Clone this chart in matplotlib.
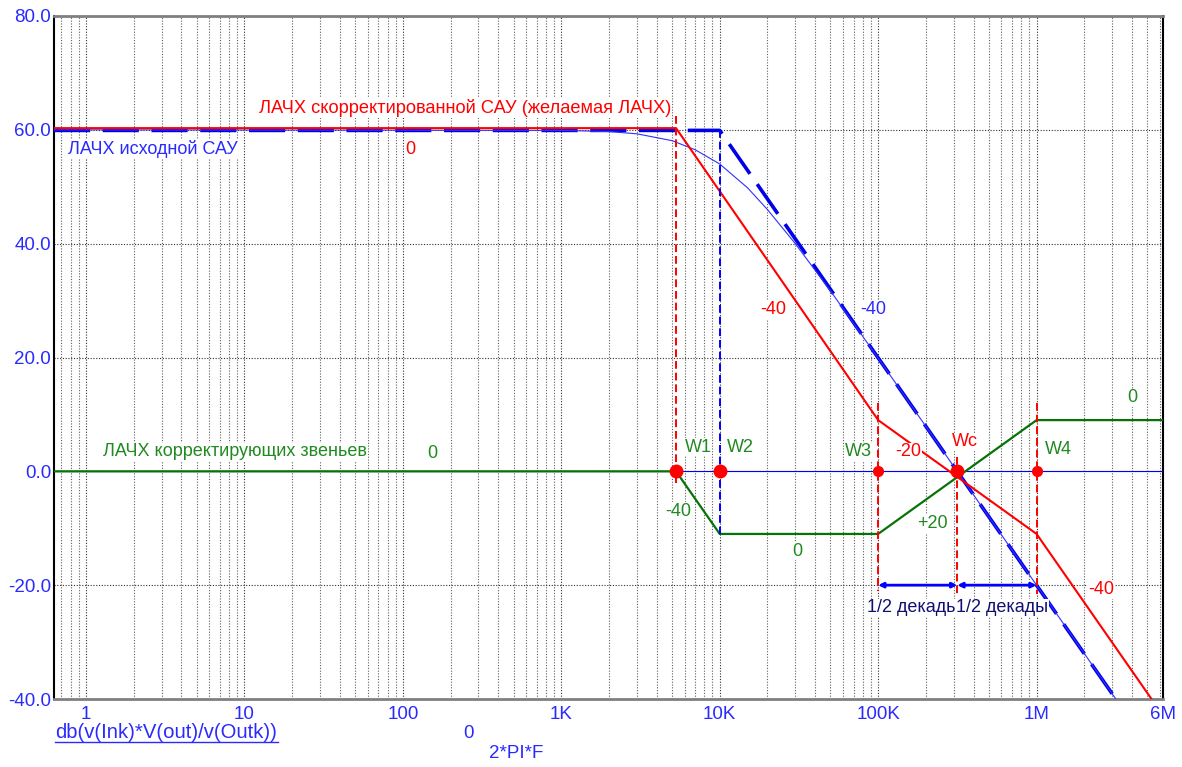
import math
import matplotlib
matplotlib.use("Agg")
import matplotlib.pyplot as plt
from matplotlib.lines import Line2D
from matplotlib.ticker import NullFormatter, LogLocator

plt.rcParams['font.family'] = ['Liberation Sans', 'DejaVu Sans']

# ---------------- data ----------------
x_min, x_max = 0.628, 6.28e6
y_min, y_max = -40, 80

# desired (corrected) LACH, red
freq_desired = [0.628, 5300, 1e5, 1e6, 6.28e6]
db_desired = [60.3, 60.3, 9, -11, -42.9]

# original system asymptote, thick blue dashed
freq_orig_asym = [0.628, 1e4, 3.2e6]
db_orig_asym = [59.9, 59.9, -40.2]

freq_orig = [0.628, 1e3, 2e3, 3e3, 5e3, 7e3, 1e4, 1.5e4, 2e4, 3e4, 5e4,
             1e5, 2e5, 5e5, 1e6, 2e6, 3.2e6]
db_orig = [60.0, 59.9, 59.7, 59.3, 58.1, 56.5, 54.0, 49.8, 46.0, 40.0, 31.7,
           19.9, 7.9, -8.0, -20.0, -32.0, -40.2]

# correcting links, green
freq_corr = [0.628, 5300, 1e4, 1e5, 1e6, 6.28e6]
db_corr = [0, 0, -11, -11, 9, 9]

# zero trace
freq_zero = [0.628, 6.28e6]
db_zero = [0, 0]

# characteristic frequencies
w_names = ['W1', 'W2', 'W3', 'Wc', 'W4']
w_freqs = [5300, 1e4, 1e5, 3.16e5, 1e6]

# dashed verticals
vline_freqs = [5300, 1e5, 3.16e5, 1e6]
vline_top = [62.5, 12, 2.5, 12]
vline_bot = [-2, -21, -22, -21.5]
blue_vline_freq = 1e4
blue_vline_top, blue_vline_bot = 60, -11

xtick_pos = [1, 10, 100, 1e3, 1e4, 1e5, 1e6, 6.28e6]
xtick_labels = ['1', '10', '100', '1K', '10K', '100K', '1M', '6M']
ytick_pos = [-40, -20, 0, 20, 40, 60, 80]

RED = '#ff0000'
BLUE = '#0000ff'
GREEN = '#067306'
TXTGREEN = '#1f8a1f'
TICKBLUE = '#2a2aff'

fig = plt.figure(figsize=(11.82, 7.67), dpi=100)
ax = fig.add_axes([54/1182, 1-699/767, (1163-54)/1182, (699-16)/767])
ax.set_xscale('log')
ax.set_xlim(x_min, x_max)
ax.set_ylim(y_min, y_max)

# grid
ax.xaxis.set_minor_locator(LogLocator(base=10, subs=range(2, 10), numticks=20))
ax.xaxis.set_minor_formatter(NullFormatter())
ax.set_xticks(xtick_pos)
ax.set_xticklabels(xtick_labels)
ax.set_yticks(ytick_pos)
ax.set_yticklabels([f'{v:.1f}' for v in ytick_pos])
ax.grid(True, which='major', axis='both', color='#303030', lw=0.8, ls=(0, (1, 1.5)))
ax.grid(True, which='minor', axis='x', color='#606060', lw=0.8, ls=(0, (1, 1.5)))
ax.tick_params(which='both', length=0)
ax.tick_params(axis='x', colors=TICKBLUE, labelsize=13.5, pad=5)
ax.tick_params(axis='y', colors=TICKBLUE, labelsize=13.5, pad=2)

for s in ['top', 'bottom']:
    ax.spines[s].set_color('#808080')
    ax.spines[s].set_linewidth(2)
for s in ['left', 'right']:
    ax.spines[s].set_color('black')
    ax.spines[s].set_linewidth(1.5)

# lines
ax.plot(freq_zero, db_zero, color=BLUE, lw=0.8, zorder=3)
ax.plot(freq_orig_asym, db_orig_asym, color='#0000e8', lw=2.6,
        ls=(0, (10, 3.5)), zorder=4)
ax.plot(freq_orig, db_orig, color='#3030ff', lw=0.8, zorder=5)
ax.plot(freq_desired, db_desired, color=RED, lw=1.5, zorder=6)
ax.plot(freq_corr, db_corr, color=GREEN, lw=1.6, zorder=5)

for f, t, b in zip(vline_freqs, vline_top, vline_bot):
    ax.plot([f, f], [t, b], color=RED, lw=1.4, ls=(0, (4, 2)), zorder=6)
ax.plot([blue_vline_freq, blue_vline_freq], [blue_vline_top, blue_vline_bot],
        color=BLUE, lw=1.4, ls=(0, (4, 2)), zorder=6)

# red dots
sizes = [9, 9, 7, 9, 7]
for f, ms in zip(w_freqs, sizes):
    ax.plot([f], [0], 'o', color=RED, ms=ms, zorder=8)

# arrows at -20
for a, b in [(1e5, 3.16e5), (3.16e5, 1e6)]:
    ax.annotate('', xy=(b, -20), xytext=(a, -20),
                arrowprops=dict(arrowstyle='<|-|>', color=BLUE, lw=2,
                                mutation_scale=7, shrinkA=0, shrinkB=0),
                zorder=7)


def px2f(px):
    return 10 ** (math.log10(x_min) + (px - 54) / (1163 - 54) * 7)


def py2db(py):
    return 80 - (py - 16) / (699 - 16) * 120


def label(px, py, s, color, size=13, ha='center', va='center'):
    ax.text(px2f(px), py2db(py), s, color=color, fontsize=size, ha=ha, va=va,
            zorder=9, bbox=dict(facecolor='white', edgecolor='none', pad=0.5))


label(259, 108, 'ЛАЧХ скорректированной САУ (желаемая ЛАЧХ)', RED, size=13.15, ha='left')
label(68, 149, 'ЛАЧХ исходной САУ', '#2a2aff', ha='left')
label(410, 149, '0', RED)
label(773, 310, '-40', RED)
label(873, 310, '-40', '#2a2aff')
label(1132, 398, '0', TXTGREEN)
label(103, 452, 'ЛАЧХ корректирующих звеньев', TXTGREEN, ha='left')
label(432, 453, '0', TXTGREEN)
label(698, 447, 'W1', TXTGREEN)
label(740, 447, 'W2', TXTGREEN)
label(858, 452, 'W3', TXTGREEN)
label(908, 452, '-20', RED)
label(965, 442, 'Wc', RED)
label(1058, 449, 'W4', TXTGREEN)
label(678, 511, '-40', TXTGREEN)
label(797, 551, '0', TXTGREEN)
label(932, 524, '+20', TXTGREEN)
label(1101, 590, '-40', RED)
label(911, 608, '1/2 декадь', '#101070')
label(1002, 608, '1/2 декады', '#101070')

# bottom trace legend
fig.text(55/1182, 1-733/767, 'db(v(Ink)*V(out)/v(Outk))', color=TICKBLUE,
         fontsize=14.6, ha='left', va='center')
fig.add_artist(Line2D([55/1182, 278/1182], [1-742/767, 1-742/767],
                      color=TICKBLUE, lw=1))
fig.text(469/1182, 1-733/767, '0', color=TICKBLUE, fontsize=13.5,
         ha='center', va='center')
fig.text(516/1182, 1-754/767, '2*PI*F', color=TICKBLUE, fontsize=13.5,
         ha='center', va='center')

fig.savefig('out.png', dpi=100)
